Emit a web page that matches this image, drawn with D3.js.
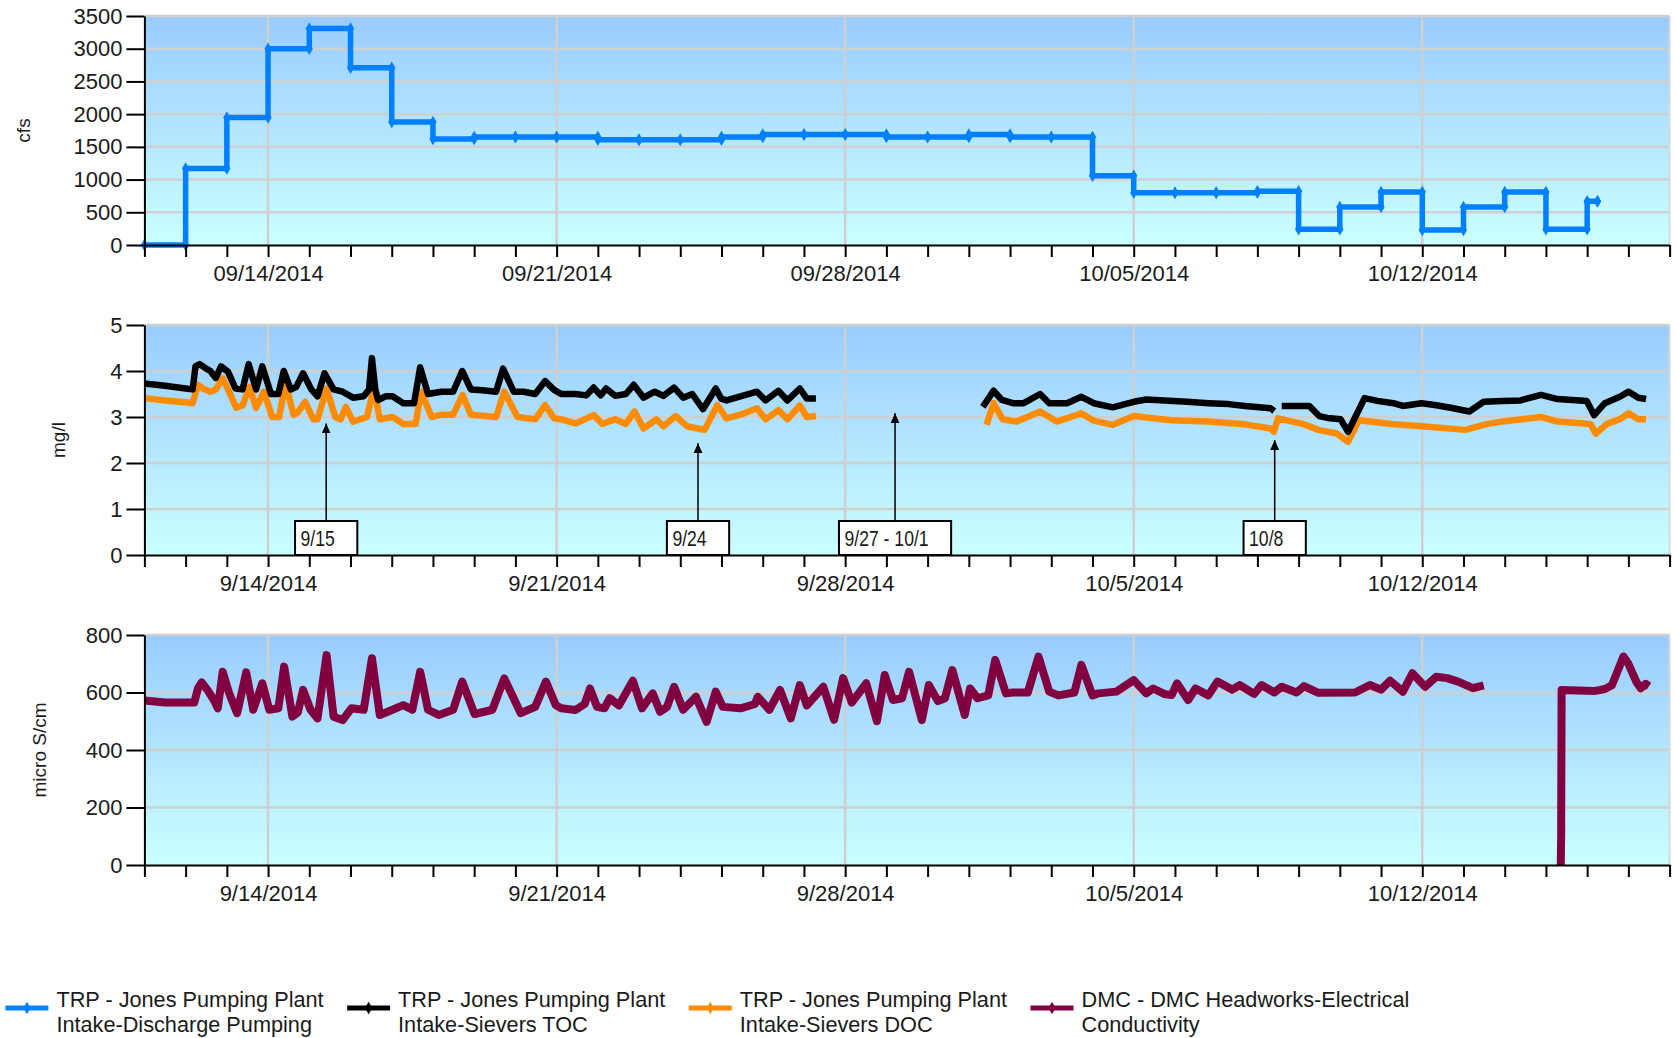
<!DOCTYPE html>
<html><head><meta charset="utf-8">
<script src="https://cdn.jsdelivr.net/npm/d3@7"></script>
<style>
body{margin:0;background:#fff;}
svg{display:block;font-family:"Liberation Sans",Arial,sans-serif;}
</style></head><body>
<svg id="chart" width="1675" height="1038"></svg>
<script>
// ---------- DATA ----------
const weekTicks = ["2014-09-14","2014-09-21","2014-09-28","2014-10-05","2014-10-12"];

// Daily pumping (cfs), value holds from the date until next date
const pumpingDates = ["2014-09-11","2014-09-12","2014-09-13","2014-09-14","2014-09-15","2014-09-16","2014-09-17","2014-09-18","2014-09-19","2014-09-20","2014-09-21","2014-09-22","2014-09-23","2014-09-24","2014-09-25","2014-09-26","2014-09-27","2014-09-28","2014-09-29","2014-09-30","2014-10-01","2014-10-02","2014-10-03","2014-10-04","2014-10-05","2014-10-06","2014-10-07","2014-10-08","2014-10-09","2014-10-10","2014-10-11","2014-10-12","2014-10-13","2014-10-14","2014-10-15","2014-10-16","2014-10-16T06:00"];
const pumpingCfs = [0,1170,1950,3000,3310,2710,1880,1620,1650,1650,1650,1610,1610,1610,1650,1690,1690,1690,1650,1650,1690,1650,1650,1060,800,800,800,820,240,580,810,230,580,810,240,670,670];

// [days since 9/11/2014 00:00, mg/l]; null = gap
const tocSeries = [
[0,3.73],[0.5,3.68],[1.0,3.62],[1.17,3.6],[1.24,4.1],[1.34,4.15],[1.5,4.05],[1.6,4.0],[1.73,3.85],[1.86,4.1],[2.03,3.98],[2.21,3.62],[2.38,3.6],[2.53,4.15],[2.71,3.6],[2.86,4.1],[3.07,3.5],[3.25,3.5],[3.38,4.0],[3.55,3.6],[3.68,3.65],[3.85,3.95],[4.05,3.6],[4.2,3.45],[4.37,3.95],[4.59,3.6],[4.81,3.55],[5.06,3.42],[5.32,3.45],[5.45,3.6],[5.52,4.28],[5.6,3.6],[5.67,3.37],[5.85,3.45],[6.02,3.45],[6.28,3.3],[6.54,3.3],[6.69,4.08],[6.88,3.5],[7.2,3.55],[7.49,3.55],[7.71,4.0],[7.92,3.6],[8.2,3.58],[8.53,3.55],[8.70,4.05],[8.96,3.55],[9.2,3.55],[9.48,3.5],[9.72,3.78],[9.94,3.59],[10.11,3.5],[10.46,3.5],[10.72,3.47],[10.90,3.64],[11.07,3.47],[11.20,3.62],[11.42,3.46],[11.68,3.5],[11.87,3.7],[12.11,3.42],[12.38,3.55],[12.59,3.46],[12.85,3.64],[13.07,3.42],[13.29,3.5],[13.55,3.17],[13.86,3.62],[13.99,3.4],[14.12,3.36],[14.46,3.45],[14.86,3.55],[15.07,3.36],[15.38,3.57],[15.60,3.36],[15.90,3.62],[16.07,3.4],[16.29,3.4],
[16.3,null],
[20.34,3.22],[20.6,3.57],[20.8,3.37],[21.07,3.3],[21.33,3.3],[21.73,3.5],[21.95,3.3],[22.38,3.3],[22.73,3.44],[23.03,3.3],[23.49,3.21],[24.0,3.33],[24.3,3.38],[24.74,3.36],[25.3,3.33],[25.81,3.3],[26.3,3.28],[26.7,3.24],[27.32,3.19],[27.41,3.13],
[27.5,null],
[27.59,3.24],[28.26,3.24],[28.5,3.02],[28.7,2.98],[29.02,2.95],[29.2,2.68],[29.6,3.41],[29.91,3.35],[30.3,3.3],[30.53,3.24],[30.98,3.3],[31.3,3.26],[31.69,3.2],[32.14,3.12],[32.49,3.33],[32.94,3.35],[33.38,3.36],[33.88,3.48],[34.28,3.39],[34.99,3.35],[35.17,3.04],[35.43,3.3],[35.79,3.44],[36.01,3.55],[36.24,3.42],[36.43,3.39]
];
const docSeries = [
[0,3.41],[0.5,3.36],[1.0,3.32],[1.17,3.3],[1.3,3.7],[1.42,3.62],[1.6,3.55],[1.73,3.6],[1.9,3.84],[2.03,3.6],[2.23,3.2],[2.38,3.25],[2.55,3.65],[2.71,3.2],[2.9,3.55],[3.1,3.0],[3.27,3.0],[3.42,3.73],[3.62,3.05],[3.72,3.1],[3.9,3.33],[4.1,2.95],[4.2,2.95],[4.42,3.62],[4.63,3.0],[4.76,2.95],[4.89,3.22],[5.06,2.9],[5.4,3.0],[5.57,3.65],[5.71,2.95],[6.02,3.0],[6.28,2.85],[6.58,2.85],[6.71,3.55],[6.97,3.0],[7.2,3.05],[7.49,3.05],[7.72,3.48],[7.92,3.05],[8.53,3.0],[8.73,3.55],[9.05,3.0],[9.48,2.95],[9.72,3.26],[9.94,2.97],[10.11,2.95],[10.46,2.86],[10.90,3.04],[11.11,2.85],[11.42,2.95],[11.68,2.85],[11.89,3.12],[12.11,2.75],[12.42,2.95],[12.59,2.8],[12.89,3.02],[13.16,2.8],[13.59,2.72],[13.90,3.26],[14.12,2.97],[14.46,3.05],[14.86,3.19],[15.07,2.95],[15.38,3.15],[15.60,2.95],[15.90,3.25],[16.07,3.0],[16.29,3.02],
[16.3,null],
[20.43,2.83],[20.6,3.3],[20.82,2.95],[21.16,2.9],[21.73,3.12],[22.13,2.9],[22.73,3.08],[23.03,2.92],[23.49,2.83],[24.0,3.02],[24.9,2.93],[25.8,2.9],[26.7,2.84],[27.32,2.75],[27.4,2.68],[27.5,2.97],[28.1,2.85],[28.48,2.72],[28.93,2.64],[29.2,2.46],[29.46,2.93],[30.25,2.85],[31.14,2.79],[32.05,2.72],[32.58,2.85],[32.94,2.9],[33.88,3.0],[34.28,2.9],[35.08,2.85],[35.21,2.64],[35.48,2.85],[35.79,2.95],[36.01,3.08],[36.24,2.95],[36.43,2.95]
];
// [days since 9/11/2014 00:00, micro S/cm]
const ecSeries = [
[0,572],[0.5,565],[1.21,565],[1.3,615],[1.39,635],[1.55,605],[1.7,570],[1.78,545],[1.9,672],[2.05,600],[2.25,528],[2.47,670],[2.64,540],[2.86,632],[3.03,540],[3.25,545],[3.39,690],[3.59,516],[3.72,530],[3.85,609],[4.03,540],[4.2,510],[4.42,730],[4.59,516],[4.81,504],[5.02,545],[5.32,540],[5.52,719],[5.71,522],[6.02,540],[6.28,556],[6.5,540],[6.69,672],[6.88,540],[7.14,522],[7.49,540],[7.71,638],[8.01,525],[8.44,540],[8.73,649],[9.13,528],[9.48,550],[9.74,638],[9.98,556],[10.11,545],[10.46,539],[10.68,560],[10.81,614],[10.98,550],[11.16,545],[11.29,580],[11.51,555],[11.85,641],[12.07,545],[12.33,597],[12.51,533],[12.68,550],[12.85,620],[13.07,540],[13.38,585],[13.64,498],[13.86,603],[14.03,550],[14.46,545],[14.81,560],[14.88,585],[15.16,540],[15.42,609],[15.68,510],[15.9,626],[16.07,555],[16.47,620],[16.73,505],[16.95,650],[17.16,565],[17.51,632],[17.77,500],[17.96,661],[18.16,574],[18.38,580],[18.55,672],[18.86,504],[19.03,626],[19.25,570],[19.42,580],[19.6,678],[19.9,522],[20.03,614],[20.21,580],[20.47,590],[20.64,713],[20.9,597],[21.07,600],[21.43,600],[21.69,725],[21.95,603],[22.17,590],[22.56,600],[22.73,696],[23.0,590],[23.14,597],[23.58,603],[24.0,643],[24.3,597],[24.47,614],[24.74,595],[24.92,591],[25.05,632],[25.32,574],[25.5,614],[25.81,590],[26.03,638],[26.39,610],[26.57,626],[26.92,595],[27.1,626],[27.41,600],[27.59,620],[27.95,600],[28.13,622],[28.48,599],[29.37,600],[29.73,626],[30.0,610],[30.22,641],[30.53,603],[30.76,667],[31.07,620],[31.34,655],[31.6,650],[31.87,638],[32.23,615],[32.49,625],
[32.5,null],
[34.36,0],[34.37,110],[34.37,145],[34.38,609],[35.17,605],[35.43,612],[35.6,625],[35.88,725],[36.0,700],[36.2,635],[36.3,615],[36.42,630],[36.5,622]
];

const annoLabels = ["9/15","9/24","9/27 - 10/1","10/8"];
const annoDays = [4.41,13.43,18.21,27.42];
const annoTip = [2.86,2.43,3.08,2.5];

const legendLines1 = ["TRP - Jones Pumping Plant","TRP - Jones Pumping Plant","TRP - Jones Pumping Plant","DMC - DMC Headworks-Electrical"];
const legendLines2 = ["Intake-Discharge Pumping","Intake-Sievers TOC","Intake-Sievers DOC","Conductivity"];
const seriesColors = ["#0080ff","#000000","#ff8c00","#800040"];

// ---------- CHART ----------
const svg = d3.select("#chart");
const X0 = 144.4, X1 = 1669.6;
const t0 = new Date(Date.UTC(2014,8,11)), t1 = new Date(Date.UTC(2014,9,18));
const x = d3.scaleUtc().domain([t0,t1]).range([X0,X1]);
const dayToDate = d => new Date(t0.getTime() + d*864e5);
const parse = s => new Date(s.length > 10 ? s + ":00Z" : s + "T00:00:00Z");
const weekSet = new Set(weekTicks.map(s => +parse(s)));

const defs = svg.append("defs");
const grad = defs.append("linearGradient").attr("id","bg").attr("x1",0).attr("y1",0).attr("x2",0).attr("y2",1);
grad.append("stop").attr("offset","0%").attr("stop-color","#99ccff");
grad.append("stop").attr("offset","100%").attr("stop-color","#ccffff");
defs.append("marker").attr("id","arrow").attr("viewBox","0 0 10 10").attr("refX",10).attr("refY",5)
  .attr("markerWidth",10).attr("markerHeight",10).attr("markerUnits","userSpaceOnUse").attr("orient","auto")
  .append("path").attr("d","M0,0.5L10,5L0,9.5Z").attr("fill","#000");

const panels = [
 {top:16, bottom:245, max:3500, step:500, title:"cfs", titleX:23, fmt:d3.utcFormat("%m/%d/%Y")},
 {top:325, bottom:555, max:5, step:1, title:"mg/l", titleX:58, fmt:d3.utcFormat("%-m/%-d/%Y")},
 {top:635, bottom:865, max:800, step:200, title:"micro S/cm", titleX:39, fmt:d3.utcFormat("%-m/%-d/%Y")}
];
const days = d3.utcDay.range(t0, d3.utcDay.offset(t1,1));

panels.forEach(p => {
  p.y = d3.scaleLinear().domain([0,p.max]).range([p.bottom,p.top]);
  const g = svg.append("g");
  p.g = g;
  g.append("rect").attr("x",X0).attr("y",p.top).attr("width",X1-X0).attr("height",p.bottom-p.top).attr("fill","url(#bg)");
  const yt = d3.range(0,p.max+p.step/2,p.step);
  g.selectAll(".hg").data(yt.filter(v=>v>0)).join("line")
    .attr("x1",X0).attr("x2",X1).attr("y1",d=>p.y(d)).attr("y2",d=>p.y(d))
    .attr("stroke","#cfcfcf").attr("stroke-width",2.5);
  g.selectAll(".vg").data(weekTicks.map(parse)).join("line")
    .attr("x1",d=>x(d)).attr("x2",d=>x(d)).attr("y1",p.top).attr("y2",p.bottom)
    .attr("stroke","#cfcfcf").attr("stroke-width",2.5);
  g.append("line").attr("x1",X1).attr("x2",X1).attr("y1",p.top).attr("y2",p.bottom).attr("stroke","#d8d8d8").attr("stroke-width",2);
  p.series = svg.append("g");
  p.axes = svg.append("g");
  const ya = p.axes.append("g").attr("transform",`translate(${X0},0)`)
    .call(d3.axisLeft(p.y).tickValues(yt).tickSize(18).tickSizeOuter(0).tickPadding(4).tickFormat(d3.format("d")));
  const xa = p.axes.append("g").attr("transform",`translate(0,${p.bottom})`)
    .call(d3.axisBottom(x).tickValues(days).tickSize(12).tickSizeOuter(0).tickPadding(8)
      .tickFormat(d => weekSet.has(+d) ? p.fmt(d) : ""));
  [ya,xa].forEach(a => {
    a.select(".domain").attr("stroke","#000").attr("stroke-width",2);
    a.selectAll(".tick line").attr("stroke","#000").attr("stroke-width",2);
    a.selectAll(".tick text").attr("fill","#1a1a1a").style("font-size","22px").style("font-family",'"Liberation Sans",Arial,sans-serif');
  });
  p.axes.append("text").attr("transform",`translate(${p.titleX},${(p.top+p.bottom)/2}) rotate(-90)`)
    .attr("text-anchor","middle").attr("dominant-baseline","central")
    .attr("fill","#1a1a1a").style("font-size","19px").text(p.title);
});

// Pumping step line
const pump = pumpingDates.map((d,i)=>[parse(d), pumpingCfs[i]]);
const P1 = panels[0];
P1.series.append("path").datum(pump)
  .attr("d", d3.line().x(d=>x(d[0])).y(d=>P1.y(d[1])).curve(d3.curveStepAfter))
  .attr("fill","none").attr("stroke",seriesColors[0]).attr("stroke-width",5.5).attr("stroke-linejoin","round");
const pumpMarks = [];
pump.forEach((d,i)=>{ pumpMarks.push(d); if(i<pump.length-1) pumpMarks.push([pump[i+1][0], d[1]]); });
P1.series.selectAll(".pm").data(pumpMarks).join("path")
  .attr("transform",d=>`translate(${x(d[0])},${P1.y(d[1])})`)
  .attr("d", d3.symbol(d3.symbolDiamond, 45)).attr("fill",seriesColors[0]);

// TOC/DOC lines
const P2 = panels[1];
const lineDays = (pp) => d3.line().defined(d=>d[1]!==null).x(d=>x(dayToDate(d[0]))).y(d=>pp.y(d[1])).curve(d3.curveLinear);
P2.series.append("path").datum(docSeries).attr("d",lineDays(P2))
  .attr("fill","none").attr("stroke",seriesColors[2]).attr("stroke-width",6.5).attr("stroke-linejoin","round");
P2.series.append("path").datum(tocSeries).attr("d",lineDays(P2))
  .attr("fill","none").attr("stroke",seriesColors[1]).attr("stroke-width",6.5).attr("stroke-linejoin","round");

// EC line
const P3 = panels[2];
P3.series.append("path").datum(ecSeries).attr("d",lineDays(P3))
  .attr("fill","none").attr("stroke",seriesColors[3]).attr("stroke-width",8).attr("stroke-linejoin","round");

// Annotations
const ann = svg.append("g");
annoLabels.forEach((lab,i)=>{
  const ax = x(dayToDate(annoDays[i]));
  const boxTop = P2.bottom - 34;
  const t = ann.append("text").attr("y", boxTop + 17).attr("dominant-baseline","central")
    .style("font-size","22px").attr("fill","#1a1a1a").text(lab);
  const tw = t.node().getComputedTextLength() * 0.8;
  t.attr("textLength", tw).attr("lengthAdjust","spacingAndGlyphs");
  const bw = tw + 28;
  const bx = ax - bw/2;
  ann.insert("rect","text").attr("x",bx).attr("y",boxTop).attr("width",bw).attr("height",34)
    .attr("fill","#fff").attr("stroke","#000").attr("stroke-width",2);
  t.attr("x", bx + 5.5);
  ann.append("line").attr("x1",ax).attr("x2",ax).attr("y1",boxTop).attr("y2",P2.y(annoTip[i]))
    .attr("stroke","#000").attr("stroke-width",1.5).attr("marker-end","url(#arrow)");
});

// Legend
const leg = svg.append("g");
seriesColors.forEach((c,i)=>{
  const sx = 5.4 + i*341.7;
  const gi = leg.append("g");
  gi.append("line").attr("x1",sx).attr("x2",sx+43).attr("y1",1008).attr("y2",1008).attr("stroke",c).attr("stroke-width",5);
  gi.append("path").attr("transform",`translate(${sx+21.5},1008)`).attr("d",d3.symbol(d3.symbolDiamond,45)).attr("fill",c);
  gi.append("text").attr("x",sx+51).attr("y",999).attr("dominant-baseline","central").style("font-size","21.7px").attr("fill","#1a1a1a").text(legendLines1[i]);
  gi.append("text").attr("x",sx+51).attr("y",1024).attr("dominant-baseline","central").style("font-size","21.7px").attr("fill","#1a1a1a").text(legendLines2[i]);
});
</script>
</body></html>
